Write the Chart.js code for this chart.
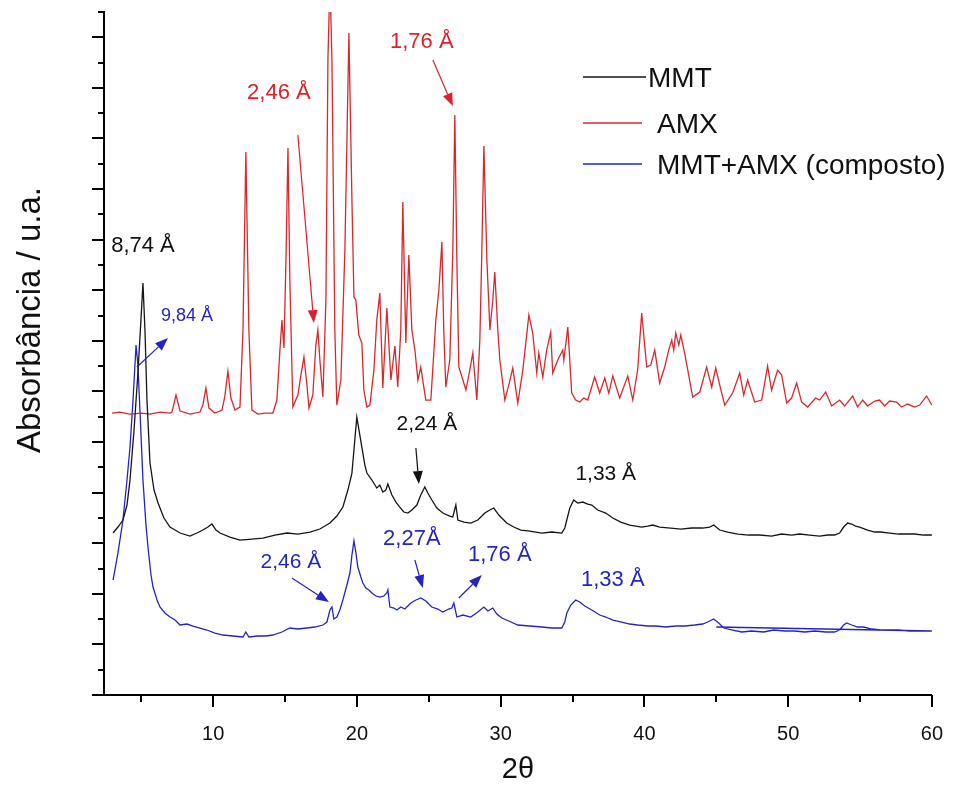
<!DOCTYPE html>
<html>
<head>
<meta charset="utf-8">
<script src="https://cdn.jsdelivr.net/npm/chart.js@4.4.1/dist/chart.umd.min.js"></script>
<style>
  html, body { margin: 0; padding: 0; background: #fff; }
  canvas { display: block; }
</style>
</head>
<body>
<canvas id="xrd" width="970" height="788"></canvas>
<script>
// DRX: montmorilonita, amoxicilina e o composto
const seriesNames = ['MMT', 'AMX', 'MMT+AMX (composto)'];
const seriesColors = ['#151515', '#d8282c', '#2424c4'];

const mmtTheta = [
  3.03, 3.37, 3.72, 4.00, 4.21, 4.49, 4.76, 4.97, 5.11, 5.25,
  5.39, 5.60, 5.88, 6.16, 6.57, 6.99, 7.69, 8.38, 8.87, 9.28,
  9.63, 9.91, 10.19, 10.47, 11.16, 11.86, 12.69, 13.46, 14.29, 15.13,
  15.89, 16.73, 17.42, 18.12, 18.60, 19.02, 19.37, 19.65, 19.85, 19.99,
  20.20, 20.34, 20.55, 20.69, 21.04, 21.38, 21.59, 21.80, 22.01, 22.15,
  22.43, 22.71, 22.98, 23.26, 23.54, 23.82, 24.17, 24.44, 24.72, 24.93,
  25.21, 25.56, 25.97, 26.46, 26.67, 26.88, 27.02, 27.44, 27.92, 28.41,
  28.90, 29.24, 29.52, 29.87, 30.42, 30.91, 31.40, 32.03, 32.86, 33.55,
  34.25, 34.46, 34.60, 34.81, 35.08, 35.36, 35.71, 36.06, 36.34, 36.75,
  37.31, 37.80, 38.35, 38.98, 39.81, 40.23, 40.58, 41.06, 41.83, 42.53,
  43.29, 44.05, 44.54, 44.82, 45.24, 45.79, 46.49, 47.25, 48.02, 48.85,
  49.55, 50.24, 50.80, 51.50, 52.19, 52.75, 53.23, 53.58, 53.86, 54.14,
  54.42, 54.69, 54.97, 55.53, 56.02, 56.43, 57.06, 57.69, 58.17, 58.80,
  59.42, 60.00
];
const mmtInt = [
  162, 168, 175, 190, 215, 265, 322, 375, 412, 365,
  295, 232, 205, 192, 177, 168, 162, 159, 162, 165,
  168, 171, 165, 162, 158, 155, 156, 157, 160, 162,
  161, 163, 166, 172, 179, 188, 205, 222, 255, 278,
  260, 248, 230, 222, 215, 207, 210, 203, 205, 211,
  200, 193, 188, 183, 182, 185, 190, 200, 208, 202,
  195, 187, 182, 179, 178, 190, 175, 173, 172, 175,
  182, 185, 187, 180, 172, 168, 165, 164, 162, 163,
  162, 167, 175, 187, 195, 192, 193, 191, 190, 185,
  182, 177, 173, 170, 168, 169, 170, 168, 167, 166,
  167, 167, 168, 170, 165, 163, 161, 160, 160, 159,
  161, 160, 161, 160, 159, 160, 160, 162, 168, 172,
  171, 169, 168, 165, 163, 163, 162, 161, 161, 161,
  160, 160
];

const amxTheta = [
  2.96, 3.50, 4.20, 5.00, 5.60, 6.30, 6.99, 7.13, 7.41, 7.69,
  8.38, 9.08, 9.28, 9.49, 9.70, 10.12, 10.61, 10.81, 11.02, 11.23,
  11.51, 11.86, 12.07, 12.27, 12.48, 12.69, 13.11, 13.60, 14.15, 14.43,
  14.64, 14.78, 14.92, 15.06, 15.20, 15.33, 15.54, 15.89, 16.10, 16.31,
  16.52, 16.66, 16.93, 17.14, 17.28, 17.42, 17.63, 17.84, 17.98, 18.12,
  18.26, 18.46, 18.60, 18.88, 19.16, 19.44, 19.65, 19.79, 19.92, 20.13,
  20.34, 20.48, 20.69, 20.90, 21.18, 21.38, 21.59, 21.80, 22.08, 22.36,
  22.64, 22.84, 23.05, 23.19, 23.40, 23.61, 23.82, 24.03, 24.24, 24.44,
  24.79, 25.14, 25.49, 25.70, 25.91, 26.04, 26.18, 26.46, 26.67, 26.81,
  26.95, 27.09, 27.37, 27.58, 27.85, 28.06, 28.34, 28.55, 28.69, 28.83,
  29.04, 29.25, 29.45, 29.59, 29.80, 29.94, 30.29, 30.56, 30.84, 31.19,
  31.54, 31.96, 32.23, 32.51, 32.65, 32.93, 33.20, 33.48, 33.62, 33.97,
  34.32, 34.39, 34.67, 34.94, 35.22, 35.50, 35.78, 36.06, 36.54, 36.89,
  37.24, 37.52, 37.80, 38.28, 38.84, 39.19, 39.53, 39.81, 40.16, 40.44,
  40.72, 41.06, 41.41, 41.69, 41.90, 42.04, 42.18, 42.39, 42.53, 42.80,
  43.08, 43.36, 43.85, 44.33, 44.68, 44.96, 45.24, 45.59, 46.14, 46.63,
  46.91, 47.18, 47.67, 48.16, 48.57, 48.85, 49.27, 49.55, 49.90, 50.24,
  50.59, 50.94, 51.36, 51.91, 52.19, 52.61, 53.03, 53.58, 53.93, 54.49,
  54.83, 55.18, 55.53, 56.02, 56.36, 56.71, 57.06, 57.55, 57.89, 58.31,
  58.80, 59.15, 59.63, 60.00
];
const amxInt = [
  282, 283, 281, 282, 281, 283, 282, 283, 300, 284,
  281, 283, 290, 307, 287, 282, 285, 299, 324, 297,
  285, 288, 365, 543, 365, 285, 281, 282, 282, 295,
  345, 375, 347, 435, 547, 415, 288, 300, 320, 338,
  310, 287, 300, 350, 365, 335, 298, 395, 635, 715,
  635, 365, 290, 315, 445, 662, 495, 398, 395, 360,
  352, 305, 288, 290, 325, 375, 402, 307, 387, 315,
  349, 308, 365, 493, 352, 440, 365, 345, 315, 328,
  295, 295, 375, 405, 453, 365, 308, 335, 445, 580,
  435, 328, 315, 305, 325, 342, 295, 355, 445, 549,
  435, 365, 395, 423, 365, 335, 295, 310, 327, 292,
  325, 380, 362, 322, 342, 318, 345, 363, 322, 335,
  345, 335, 368, 302, 295, 293, 297, 295, 318, 302,
  317, 302, 319, 297, 319, 295, 325, 382, 328, 330,
  345, 312, 328, 345, 355, 345, 362, 350, 360, 342,
  320, 298, 303, 328, 308, 327, 310, 290, 302, 322,
  300, 315, 293, 295, 329, 305, 325, 320, 292, 297,
  312, 293, 288, 297, 295, 303, 289, 295, 289, 299,
  288, 295, 289, 294, 295, 289, 294, 293, 288, 291,
  288, 290, 299, 290
];

// the last point runs back over the tail of the scan
const compTheta = [
  3.03, 3.37, 3.72, 4.00, 4.21, 4.42, 4.63, 4.76, 4.90, 5.11,
  5.32, 5.46, 5.67, 5.81, 6.09, 6.29, 6.64, 6.99, 7.34, 7.69,
  8.17, 8.59, 9.08, 9.56, 10.12, 10.68, 11.37, 12.07, 12.27, 12.48,
  13.11, 13.67, 14.15, 14.78, 15.33, 15.89, 16.52, 17.07, 17.63, 17.91,
  18.12, 18.26, 18.39, 18.60, 18.81, 19.02, 19.30, 19.51, 19.65, 19.79,
  19.92, 20.06, 20.27, 20.41, 20.62, 20.83, 21.04, 21.32, 21.59, 21.87,
  22.08, 22.15, 22.29, 22.57, 22.78, 23.05, 23.33, 23.54, 23.75, 24.10,
  24.44, 24.79, 25.21, 25.63, 25.97, 26.39, 26.60, 26.74, 26.95, 27.37,
  27.92, 28.41, 28.83, 29.11, 29.45, 29.73, 30.08, 30.56, 31.19, 32.03,
  32.86, 33.55, 34.25, 34.46, 34.60, 34.88, 35.22, 35.50, 35.85, 36.34,
  36.89, 37.31, 37.80, 38.42, 38.98, 39.53, 40.23, 40.79, 41.48, 42.18,
  42.80, 43.50, 44.05, 44.40, 44.82, 45.17, 45.52, 46.14, 46.77, 47.46,
  48.30, 48.99, 49.76, 50.45, 51.15, 51.84, 52.61, 53.23, 53.58, 53.86,
  54.07, 54.42, 54.83, 55.25, 55.81, 56.43, 57.06, 57.69, 58.45, 59.15,
  60.00, 45.00
];
const compInt = [
  115, 142, 175, 215, 248, 295, 350, 330, 285, 215,
  170, 148, 120, 108, 95, 88, 82, 78, 75, 70,
  71, 69, 67, 65, 62, 60, 59, 58, 63, 58,
  59, 59, 60, 63, 67, 66, 67, 68, 70, 73,
  85, 88, 76, 78, 85, 95, 110, 122, 140, 154,
  143, 128, 118, 112, 107, 105, 102, 99, 98, 99,
  102, 105, 88, 87, 85, 88, 86, 89, 92, 95,
  97, 94, 88, 86, 83, 86, 87, 92, 78, 80,
  78, 83, 88, 84, 87, 81, 77, 74, 70, 69,
  68, 67, 67, 73, 82, 90, 95, 93, 89, 85,
  80, 78, 75, 73, 71, 70, 69, 69, 68, 69,
  69, 70, 71, 73, 76, 72, 67, 65, 63, 64,
  63, 65, 64, 64, 63, 64, 63, 63, 65, 70,
  72, 70, 68, 68, 66, 65, 65, 65, 64, 64,
  64, 68
];

const xMajorTicks = [10, 20, 30, 40, 50, 60];
const xMinorTicks = [5, 15, 25, 35, 45, 55];
const yTickStep = 25.3;
const yTickCount = 27;

// d-spacing callouts, anchored in data coordinates
const peakNotes = [
  { text: '8,74 Å', color: '#111', size: 22, at: [5.11, 449] },
  { text: '9,84 Å', color: '#2424c4', size: 18, at: [8.17, 379], arrow: [[4.69, 328], [6.85, 357]] },
  { text: '2,46 Å', color: '#e0202a', size: 22, at: [14.57, 602], arrow: [[15.89, 560], [17.0, 372]] },
  { text: '1,76 Å', color: '#e0202a', size: 22, at: [24.51, 653], arrow: [[25.28, 635], [26.67, 589]] },
  { text: '2,24 Å', color: '#111', size: 21, at: [24.86, 271], arrow: [[24.10, 247], [24.31, 211]] },
  { text: '1,33 Å', color: '#111', size: 21, at: [37.31, 221] },
  { text: '2,46 Å', color: '#2424c4', size: 21, at: [15.40, 133], arrow: [[15.47, 117], [18.05, 93]] },
  { text: '2,27Å', color: '#2424c4', size: 22, at: [23.82, 156], arrow: [[24.03, 135], [24.58, 107]] },
  { text: '1,76 Å', color: '#2424c4', size: 22, at: [29.94, 140], arrow: [[27.09, 97], [28.69, 120]] },
  { text: '1,33 Å', color: '#2424c4', size: 22, at: [37.80, 115] }
];

const FONT = '"Liberation Sans", Arial, sans-serif';

function toPoints(xs, ys) {
  return xs.map((x, i) => ({ x: x, y: ys[i] }));
}

function drawArrow(ctx, x1, y1, x2, y2, color) {
  const ang = Math.atan2(y2 - y1, x2 - x1);
  const head = 13, half = 5;
  const bx = x2 - head * Math.cos(ang), by = y2 - head * Math.sin(ang);
  ctx.strokeStyle = color;
  ctx.fillStyle = color;
  ctx.lineWidth = 1.2;
  ctx.beginPath(); ctx.moveTo(x1, y1); ctx.lineTo(bx, by); ctx.stroke();
  ctx.beginPath();
  ctx.moveTo(x2, y2);
  ctx.lineTo(bx + half * Math.sin(ang), by - half * Math.cos(ang));
  ctx.lineTo(bx - half * Math.sin(ang), by + half * Math.cos(ang));
  ctx.closePath();
  ctx.fill();
}

const xrdDecor = {
  id: 'xrdDecor',
  afterDraw(chart) {
    const { ctx, chartArea: a, scales: { x, y } } = chart;
    ctx.save();

    // tick marks, outward
    ctx.strokeStyle = '#000';
    ctx.lineWidth = 2;
    ctx.beginPath();
    for (let k = 0; k <= yTickCount; k++) {
      const py = Math.round(y.getPixelForValue(k * yTickStep));
      const len = k % 2 ? 6 : 12;
      ctx.moveTo(a.left - len, py);
      ctx.lineTo(a.left, py);
    }
    xMajorTicks.forEach(v => {
      const px = Math.round(x.getPixelForValue(v));
      ctx.moveTo(px, a.bottom); ctx.lineTo(px, a.bottom + 12);
    });
    xMinorTicks.forEach(v => {
      const px = Math.round(x.getPixelForValue(v));
      ctx.moveTo(px, a.bottom); ctx.lineTo(px, a.bottom + 7);
    });
    ctx.stroke();

    // axis titles
    ctx.fillStyle = '#111';
    ctx.textAlign = 'center';
    ctx.textBaseline = 'middle';
    ctx.font = '29px ' + FONT;
    ctx.fillText('2θ', (a.left + a.right) / 2, 770);
    ctx.save();
    ctx.translate(31, 320);
    ctx.rotate(-Math.PI / 2);
    ctx.font = '33px ' + FONT;
    ctx.fillText('Absorbância / u.a.', 0, 0);
    ctx.restore();

    // peak callouts
    peakNotes.forEach(n => {
      ctx.font = n.size + 'px ' + FONT;
      ctx.fillStyle = n.color;
      ctx.textAlign = 'center';
      ctx.fillText(n.text, x.getPixelForValue(n.at[0]), y.getPixelForValue(n.at[1]));
      if (n.arrow) {
        const [t, h] = n.arrow;
        drawArrow(ctx, x.getPixelForValue(t[0]), y.getPixelForValue(t[1]),
          x.getPixelForValue(h[0]), y.getPixelForValue(h[1]), n.color);
      }
    });

    // legend
    const rows = [
      { y: 77, lineEnd: 646, textX: 648 },
      { y: 123, lineEnd: 642, textX: 657 },
      { y: 164, lineEnd: 642, textX: 657 }
    ];
    ctx.textAlign = 'left';
    ctx.font = '28px ' + FONT;
    chart.data.datasets.forEach((ds, i) => {
      const r = rows[i];
      ctx.strokeStyle = ds.borderColor;
      ctx.lineWidth = 1.5;
      ctx.beginPath(); ctx.moveTo(583, r.y); ctx.lineTo(r.lineEnd, r.y); ctx.stroke();
      ctx.fillStyle = '#111';
      ctx.fillText(ds.label, r.textX, r.y + 2);
    });
    ctx.restore();
  }
};

new Chart(document.getElementById('xrd'), {
  type: 'line',
  data: {
    datasets: [
      { label: seriesNames[0], data: toPoints(mmtTheta, mmtInt), borderColor: seriesColors[0] },
      { label: seriesNames[1], data: toPoints(amxTheta, amxInt), borderColor: seriesColors[1] },
      { label: seriesNames[2], data: toPoints(compTheta, compInt), borderColor: seriesColors[2] }
    ]
  },
  options: {
    responsive: false,
    animation: false,
    devicePixelRatio: 1,
    elements: { line: { borderWidth: 1.3, tension: 0 }, point: { radius: 0 } },
    layout: { padding: { top: 12, right: 38, left: 0, bottom: 0 } },
    plugins: { legend: { display: false }, tooltip: { enabled: false } },
    scales: {
      x: {
        type: 'linear',
        min: 2.4,
        max: 60,
        grid: { display: false, drawTicks: false },
        border: { display: true, color: '#000', width: 2 },
        afterBuildTicks: s => { s.ticks = xMajorTicks.map(v => ({ value: v })); },
        afterFit: s => { s.height = 93; },
        ticks: { padding: 27, maxRotation: 0, color: '#111', font: { family: FONT, size: 20 } }
      },
      y: {
        min: 0,
        max: yTickStep * yTickCount,
        grid: { display: false, drawTicks: false },
        border: { display: true, color: '#000', width: 2 },
        ticks: { display: false },
        afterFit: s => { s.width = 104; }
      }
    }
  },
  plugins: [xrdDecor]
});
</script>
</body>
</html>
